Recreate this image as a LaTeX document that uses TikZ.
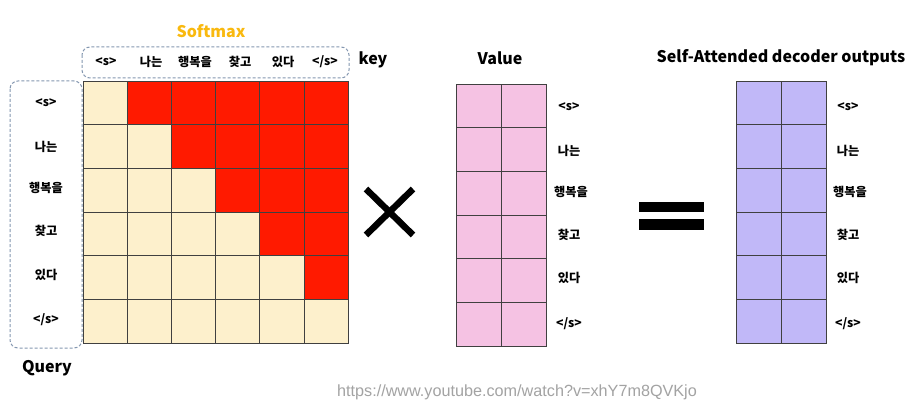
\documentclass[tikz,border=0pt]{standalone}
\usepackage{fontspec}
\setmainfont{Noto Sans CJK KR}
\newfontfamily\urlfont{Liberation Sans}
\definecolor{cream}{HTML}{FDF0CC}
\definecolor{cellred}{HTML}{FF1A00}
\definecolor{valpink}{HTML}{F5C2E3}
\definecolor{outpurple}{HTML}{C1B8F8}
\definecolor{dashblue}{HTML}{8497B0}
\definecolor{softorange}{HTML}{F9B90F}
\definecolor{urlgray}{HTML}{A3A3A3}
\tikzset{
  gridline/.style={draw=black!75, line width=0.8pt},
  dashbox/.style={draw=dashblue, line width=1pt, dash pattern=on 3pt off 2pt, rounded corners=8pt},
  tok/.style={font=\bfseries\fontsize{12.2}{14}\selectfont, inner sep=0pt},
  title/.style={font=\bfseries\fontsize{16}{18}\selectfont, inner sep=0pt},
}
\begin{document}
\begin{tikzpicture}[x=1pt,y=-1pt]
\useasboundingbox (0,0) rectangle (919,409);
\fill[white] (0,0) rectangle (919,409);
% attention matrix
\foreach \r in {0,...,5}{
  \foreach \c in {0,...,5}{
    \ifnum\c>\r \def\cellcol{cellred}\else\def\cellcol{cream}\fi
    \filldraw[gridline, fill=\cellcol] (83+\c*44.2, 81+\r*43.7) rectangle ++(44.2,43.7);
  }
}
% value matrix
\foreach \r in {0,...,5}{
  \foreach \c in {0,1}{
    \filldraw[gridline, fill=valpink] (456+\c*45, 84+\r*43.7) rectangle ++(45,43.7);
  }
}
% output matrix
\foreach \r in {0,...,5}{
  \foreach \c in {0,1}{
    \filldraw[gridline, fill=outpurple] (736+\c*45, 81+\r*43.7) rectangle ++(45,43.7);
  }
}
% dashed boxes
\draw[dashbox] (82,47) rectangle (349,78);
\draw[dashbox] (10,81) rectangle (82,348);
% titles
\node[title, text=softorange] (softmax) at (211,31) {Softmax};
\node[title] (key) at (373,60) {key};
\node[title] (query) at (47,368) {Query};
\node[title] (value) at (500,58) {Value};
\node[title] (outs) at (781,58) {Self-Attended decoder outputs};
% key tokens
\node[tok] (k1) at (106,62) {<s>};
\node[tok] (k2) at (151,62) {나는};
\node[tok] (k3) at (195,62) {행복을};
\node[tok] (k4) at (240,62) {찾고};
\node[tok] (k5) at (283,62) {있다};
\node[tok] (k6) at (325,62) {</s>};
% query tokens
\node[tok] (q1) at (46,103) {<s>};
\node[tok] (q2) at (46,147) {나는};
\node[tok] (q3) at (46,188) {행복을};
\node[tok] (q4) at (46,231) {찾고};
\node[tok] (q5) at (46,275) {있다};
\node[tok] (q6) at (46,320) {</s>};
% value tokens
\node[tok] (v1) at (569,107) {<s>};
\node[tok] (v2) at (569,151) {나는};
\node[tok] (v3) at (571,192) {행복을};
\node[tok] (v4) at (569,235) {찾고};
\node[tok] (v5) at (569,278) {있다};
\node[tok] (v6) at (569,324) {</s>};
% output tokens
\node[tok] (o1) at (848,107) {<s>};
\node[tok] (o2) at (848,151) {나는};
\node[tok] (o3) at (850,192) {행복을};
\node[tok] (o4) at (848,235) {찾고};
\node[tok] (o5) at (848,278) {있다};
\node[tok] (o6) at (848,324) {</s>};
% times sign
\draw[line width=6.5pt] (366,189) -- (413,235);
\draw[line width=6.5pt] (366,235) -- (413,189);
% equals sign
\fill (639,202) rectangle (704,212);
\fill (639,219) rectangle (704,230);
% url
\node[inner sep=0pt, text=urlgray, font=\urlfont\fontsize{16.2}{18}\selectfont] (url) at (517,392) {https://www.youtube.com/watch?v=xhY7m8QVKjo};
\end{tikzpicture}
\end{document}
